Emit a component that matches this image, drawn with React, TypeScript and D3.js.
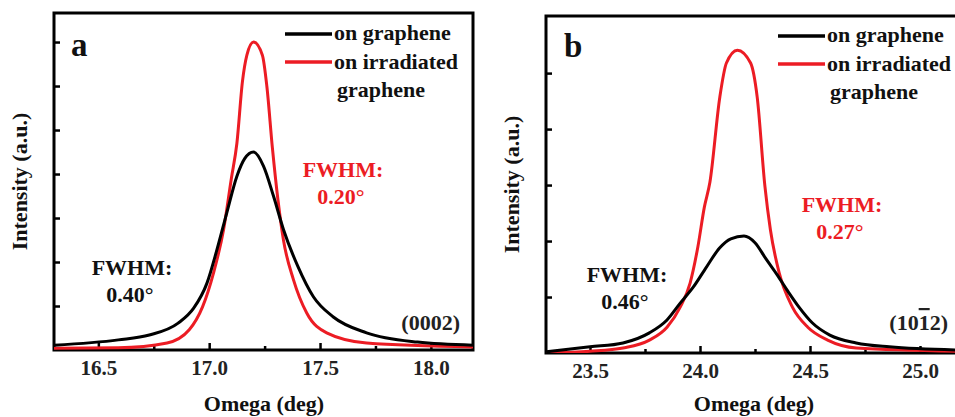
import React, { useRef, useEffect } from 'react';
import { select, scaleLinear, line, curveMonotoneX, axisBottom, axisLeft, format } from 'd3';

// panel a, (0002) rocking curve
const aBlackOmega = [16.3, 16.59, 16.73, 16.86, 16.93, 16.99, 17.035, 17.08, 17.125, 17.16, 17.2, 17.245, 17.29, 17.335, 17.4, 17.47, 17.56, 17.71, 17.94, 18.19];
const aBlackIntensity = [0.11, 0.23, 0.34, 0.61, 0.95, 1.52, 2.28, 3.13, 3.95, 4.35, 4.5, 4.18, 3.5, 2.74, 1.9, 1.21, 0.75, 0.39, 0.18, 0.11];
const aRedOmega = [16.3, 16.59, 16.81, 16.91, 16.97, 17.02, 17.065, 17.1, 17.125, 17.15, 17.17, 17.2, 17.24, 17.26, 17.285, 17.31, 17.335, 17.38, 17.44, 17.53, 17.71, 18.19];
const aRedIntensity = [0.04, 0.05, 0.16, 0.46, 0.98, 1.76, 2.74, 3.9, 4.7, 6.1, 6.7, 7.0, 6.7, 6.0, 4.6, 3.42, 2.5, 1.6, 0.84, 0.39, 0.16, 0.07];

// panel b, (10-12) rocking curve
const bBlackOmega = [23.3, 23.5, 23.65, 23.77, 23.85, 23.91, 23.97, 24.03, 24.09, 24.14, 24.2, 24.25, 24.3, 24.35, 24.4, 24.45, 24.51, 24.59, 24.71, 24.86, 25.2];
const bBlackIntensity = [0.02, 0.11, 0.18, 0.36, 0.59, 0.89, 1.18, 1.54, 1.88, 2.04, 2.09, 1.97, 1.68, 1.4, 1.1, 0.82, 0.54, 0.32, 0.18, 0.11, 0.05];
const bRedOmega = [23.3, 23.5, 23.65, 23.77, 23.85, 23.91, 23.955, 23.99, 24.02, 24.045, 24.09, 24.12, 24.17, 24.23, 24.26, 24.295, 24.32, 24.36, 24.42, 24.49, 24.58, 24.71, 25.2];
const bRedIntensity = [0.0, 0.03, 0.09, 0.23, 0.46, 0.82, 1.25, 1.89, 2.61, 3.05, 4.57, 5.18, 5.41, 5.18, 4.57, 2.98, 2.2, 1.43, 0.82, 0.46, 0.23, 0.09, 0.03];

const aMajorTicks = [16.5, 17.0, 17.5, 18.0];
const aMinorTicks = [16.75, 17.25, 17.75];
const bMajorTicks = [23.5, 24.0, 24.5, 25.0];
const bMinorTicks = [23.75, 24.25, 24.75];
const aYTicks = [1, 2, 3, 4, 5, 6, 7];
const bYTicks = [1, 2, 3, 4, 5];

const legendLabels = ['on graphene', 'on irradiated', 'graphene'];

const FONT = "'Liberation Serif', 'DejaVu Serif', serif";
const RED = '#ec1c24';

const panels = [
  {
    letter: 'a', plane: ['(0002)'],
    xDomain: [16.3, 18.19], yDomain: [0, 7.66],
    left: 54, right: 473, top: 13, bottom: 350,
    major: aMajorTicks, minor: aMinorTicks, yTicks: aYTicks,
    black: [aBlackOmega, aBlackIntensity], red: [aRedOmega, aRedIntensity],
    redFwhm: '0.20°', blackFwhm: '0.40°',
    redPos: [343, 177], blackPos: [132, 275], letterPos: [71, 56],
    legend: [285, 34], planePos: [460, 330], yLabelX: 27, xLabelX: 264,
  },
  {
    letter: 'b', plane: ['(10', '1', '2)'],
    xDomain: [23.3, 25.2], yDomain: [0, 6.02],
    left: 546, right: 964, top: 16, bottom: 353,
    major: bMajorTicks, minor: bMinorTicks, yTicks: bYTicks,
    black: [bBlackOmega, bBlackIntensity], red: [bRedOmega, bRedIntensity],
    redFwhm: '0.27°', blackFwhm: '0.46°',
    redPos: [842, 212], blackPos: [627, 282], letterPos: [564, 57],
    legend: [778, 36], planePos: [948, 330], yLabelX: 519, xLabelX: 754,
  },
];

function drawPanel(svg: any, p: any, i: number) {
  const x = scaleLinear().domain(p.xDomain).range([p.left, p.right]);
  const y = scaleLinear().domain(p.yDomain).range([p.bottom, p.top]);
  const g = svg.append('g').style('font-family', FONT).style('font-weight', 'bold');

  const clipId = 'plot-clip-' + i;
  g.append('clipPath').attr('id', clipId).append('rect')
    .attr('x', p.left).attr('y', p.top)
    .attr('width', p.right - p.left).attr('height', p.bottom - p.top);

  // frame
  g.append('rect')
    .attr('x', p.left).attr('y', p.top)
    .attr('width', p.right - p.left).attr('height', p.bottom - p.top)
    .attr('fill', 'none').attr('stroke', '#000').attr('stroke-width', 3);

  // ticks (inward)
  const xAxis = g.append('g').attr('transform', `translate(0,${p.bottom})`)
    .call(axisBottom(x).tickValues(p.major).tickSize(-7).tickPadding(10).tickFormat(format('.1f')));
  xAxis.append('g').call(axisBottom(x).tickValues(p.minor).tickSize(-4).tickFormat(() => ''));
  xAxis.selectAll('.domain').remove();
  xAxis.selectAll('line').attr('stroke-width', 2.5);
  xAxis.selectAll('text')
    .style('font-family', FONT).style('font-weight', 'bold').attr('font-size', 21).attr('fill', '#222');

  const yAxis = g.append('g').attr('transform', `translate(${p.left},0)`)
    .call(axisLeft(y).tickValues(p.yTicks).tickSize(-6).tickFormat(() => ''));
  yAxis.selectAll('.domain').remove();
  yAxis.selectAll('line').attr('stroke-width', 2.5);

  // curves
  const path = line<number[]>()
    .x(d => x(d[0]))
    .y(d => y(d[1]))
    .curve(curveMonotoneX);
  const curves = g.append('g').attr('clip-path', `url(#${clipId})`);
  [[p.red, RED], [p.black, '#000']].forEach(([s, c]: any) => {
    const pts = s[0].map((o: number, k: number) => [o, s[1][k]]);
    curves.append('path').attr('d', path(pts)).attr('fill', 'none')
      .attr('stroke', c).attr('stroke-width', 3).attr('stroke-linejoin', 'round');
  });

  // legend
  const [lx, ly] = p.legend;
  g.append('line').attr('x1', lx).attr('x2', lx + 47).attr('y1', ly).attr('y2', ly)
    .attr('stroke', '#000').attr('stroke-width', 3.5);
  g.append('line').attr('x1', lx).attr('x2', lx + 47).attr('y1', ly + 28).attr('y2', ly + 28)
    .attr('stroke', RED).attr('stroke-width', 3.5);
  legendLabels.forEach((t, k) => {
    g.append('text').attr('x', lx + 49 + (k === 2 ? 3 : 0)).attr('y', ly + 6 + k * 28.5)
      .attr('font-size', 22).attr('fill', '#111').text(t);
  });

  // panel letter
  g.append('text').attr('x', p.letterPos[0]).attr('y', p.letterPos[1])
    .attr('font-size', 33).attr('fill', '#111').text(p.letter);

  // FWHM annotations
  const ann = (pos: number[], val: string, col: string) => {
    g.append('text').attr('x', pos[0]).attr('y', pos[1]).attr('text-anchor', 'middle')
      .attr('font-size', 22).attr('fill', col).text('FWHM:');
    g.append('text').attr('x', pos[0] - 2).attr('y', pos[1] + 27).attr('text-anchor', 'middle')
      .attr('font-size', 22).attr('fill', col).text(val);
  };
  ann(p.redPos, p.redFwhm, RED);
  ann(p.blackPos, p.blackFwhm, '#111');

  // plane index
  const pl = g.append('text').attr('x', p.planePos[0]).attr('y', p.planePos[1])
    .attr('text-anchor', 'end').attr('font-size', 22).attr('fill', '#222');
  p.plane.forEach((t: string, k: number) => {
    const ts = pl.append('tspan').text(t);
    if (p.plane.length === 3 && k === 1) ts.attr('text-decoration', 'overline');
  });

  // axis titles
  g.append('text').attr('transform', `translate(${p.yLabelX},${(p.top + p.bottom) / 2}) rotate(-90)`)
    .attr('text-anchor', 'middle').attr('font-size', 22).attr('fill', '#111').text('Intensity (a.u.)');
  g.append('text').attr('x', p.xLabelX).attr('y', 411).attr('text-anchor', 'middle')
    .attr('font-size', 22).attr('fill', '#111').text('Omega (deg)');
}

export default function App() {
  const svgRef = useRef<SVGSVGElement>(null);

  useEffect(() => {
    const svg = select(svgRef.current);
    svg.selectAll('*').remove();
    panels.forEach((p, i) => drawPanel(svg, p, i));
  }, []);

  return (
    <svg
      ref={svgRef}
      width={955}
      height={417}
      viewBox="0 0 955 417"
      style={{ position: 'absolute', left: 0, top: 0, background: '#fff', fontFamily: FONT }}
    />
  );
}
